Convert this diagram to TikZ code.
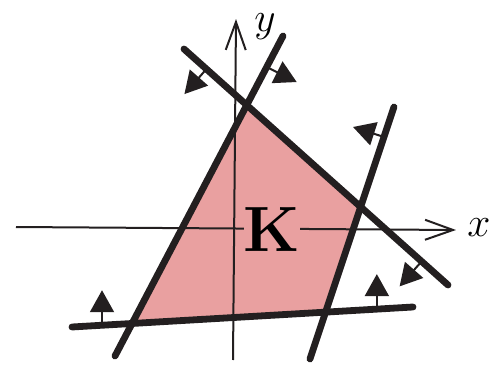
\documentclass[tikz,border=0pt]{standalone}
\usepackage{tikz}
\usetikzlibrary{arrows.meta,calc}
\definecolor{kred}{RGB}{233,160,160}
\definecolor{ink}{RGB}{35,31,32}

\begin{document}
\begin{tikzpicture}[x=0.5pt,y=-0.5pt,
  bd/.style={draw=ink,line width=3.4pt,line cap=round},
  ax/.style={draw=ink,line width=1pt,-{Straight Barb[length=14pt,width=10pt]}},
  nrm/.style={draw=ink,fill=ink,line width=1pt,-{Triangle[length=11pt,width=12pt]}}]
\useasboundingbox (0,0) rectangle (500,370);
% the four lines
\coordinate (A1) at (115,356); \coordinate (A2) at (283,36);
\coordinate (B1) at (184,49);  \coordinate (B2) at (448,285);
\coordinate (C1) at (310,359); \coordinate (C2) at (394,107);
\coordinate (D1) at (72,327);  \coordinate (D2) at (413,307);
% the set K
\fill[kred] (intersection of A1--A2 and B1--B2) -- (intersection of B1--B2 and C1--C2)
  -- (intersection of C1--C2 and D1--D2) -- (intersection of D1--D2 and A1--A2) -- cycle;
% axes
\coordinate (xl) at (16,227); \coordinate (xr) at (456,230);
\coordinate (yb) at (233,360); \coordinate (yt) at (236,19);
\draw[ax] (xl) -- (xr);
\draw[ax] (yb) -- (yt);
\node[anchor=base,inner sep=0pt] (xlab) at (479,236) {\fontsize{20}{24}\selectfont$x$};
\node[anchor=base,inner sep=0pt] (ylab) at (265,31) {\fontsize{20}{24}\selectfont$y$};
\node[fill=kred,inner sep=0pt,font=\fontsize{32}{36}\selectfont\bfseries] (K) at (272,230) {K};
\draw[bd] (A1) -- (A2);
\draw[bd] (B1) -- (B2);
\draw[bd] (C1) -- (C2);
\draw[bd] (D1) -- (D2);
% normals
\coordinate (nA) at ($(A1)!0.903!(A2)$);
\coordinate (nB1) at ($(B1)!0.085!(B2)$);
\coordinate (nB2) at ($(B1)!0.90!(B2)$);
\coordinate (nC) at ($(C1)!0.881!(C2)$);
\coordinate (nD1) at ($(D1)!0.088!(D2)$);
\coordinate (nD2) at ($(D1)!0.894!(D2)$);
\draw[nrm] (nA) -- ($(nA)+(30,15)$);
\draw[nrm] (nB1) -- ($(nB1)+(-22,25)$);
\draw[nrm] (nB2) -- ($(nB2)+(-22,25)$);
\draw[nrm] (nC) -- ($(nC)+(-31,-10)$);
\draw[nrm] (nD1) -- ($(nD1)+(0,-35)$);
\draw[nrm] (nD2) -- ($(nD2)+(0,-35)$);
\end{tikzpicture}
\end{document}
